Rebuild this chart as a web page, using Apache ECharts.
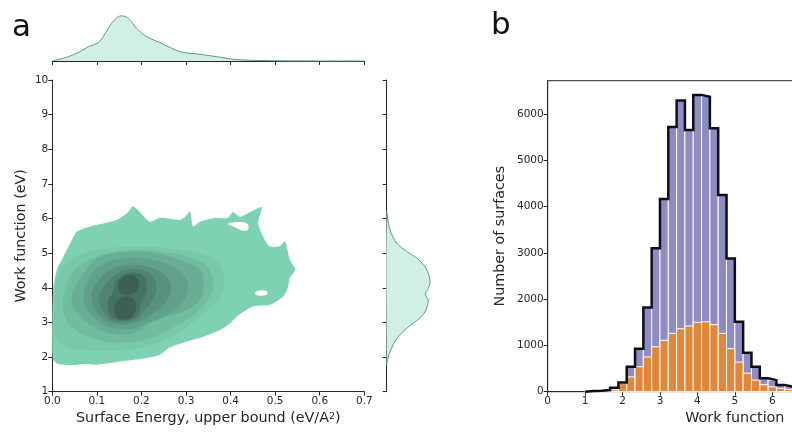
<!DOCTYPE html>
<html>
<head>
<meta charset="utf-8">
<script src="https://cdn.jsdelivr.net/npm/echarts@6/dist/echarts.min.js"></script>
<style>
  html, body { margin: 0; padding: 0; background: #fff; }
  #chart { width: 792px; height: 446px; }
</style>
</head>
<body>
<div id="chart"></div>
<script>
// ---- panel a: marginal densities ----
var topDensX = [0.0, 0.032, 0.062, 0.081, 0.103, 0.114, 0.133, 0.148, 0.159, 0.171, 0.189, 0.212, 0.242, 0.287, 0.331, 0.369, 0.406, 0.451, 0.496, 0.55, 0.7];
var topDensY = [0, 0.48, 1.21, 1.86, 2.38, 3.16, 4.90, 5.76, 5.85, 5.55, 4.25, 3.16, 2.38, 1.21, 0.87, 0.56, 0.22, 0.09, 0.04, 0.01, 0];

var rightDensY = [6.2, 5.67, 5.29, 5.05, 4.86, 4.61, 4.32, 4.13, 3.95, 3.82, 3.65, 3.45, 3.25, 3.05, 2.83, 2.54, 2.2, 1.92, 1.75];
var rightDensX = [0, 0.041, 0.125, 0.25, 0.375, 0.479, 0.534, 0.541, 0.513, 0.481, 0.519, 0.506, 0.463, 0.375, 0.25, 0.125, 0.05, 0.008, 0];

// ---- panel a: filled KDE contour levels, [surface energy, work function] ----
var level1 = [[0.002,1.92],[0.013,1.80],[0.047,1.77],[0.07,1.80],[0.1,1.78],[0.145,1.86],[0.2,1.95],[0.24,2.06],[0.264,2.28],[0.302,2.45],[0.339,2.59],[0.376,2.78],[0.399,2.98],[0.414,3.17],[0.450,3.46],[0.488,3.51],[0.518,3.75],[0.529,4.03],[0.533,4.29],[0.545,4.52],[0.533,4.81],[0.522,5.34],[0.511,5.21],[0.488,5.19],[0.473,5.48],[0.462,5.88],[0.470,6.33],[0.444,6.19],[0.421,6.05],[0.405,6.19],[0.394,6.02],[0.361,6.01],[0.331,5.91],[0.316,5.77],[0.312,6.0],[0.309,6.2],[0.300,6.08],[0.287,5.96],[0.242,6.02],[0.219,5.91],[0.192,6.25],[0.181,6.35],[0.168,6.16],[0.144,5.96],[0.085,5.77],[0.055,5.62],[0.044,5.38],[0.025,4.90],[0.010,4.52],[0.002,3.94],[0.0,3.07],[0.0,2.21]];
var hole1 = [[0.455,3.85],[0.465,3.92],[0.48,3.9],[0.483,3.82],[0.47,3.77],[0.458,3.79]];
var hole2 = [[0.394,5.85],[0.41,5.75],[0.43,5.64],[0.44,5.7],[0.437,5.85],[0.42,5.9]];
var level2 = [[0.008,2.6],[0.03,2.3],[0.09,2.2],[0.16,2.2],[0.22,2.35],[0.27,2.6],[0.31,2.95],[0.35,3.35],[0.38,3.8],[0.385,4.3],[0.37,4.75],[0.33,5.0],[0.27,5.12],[0.2,5.2],[0.13,5.15],[0.07,5.0],[0.03,4.7],[0.01,4.2],[0.005,3.4]];
var level3 = [[0.025,3.3],[0.05,2.8],[0.1,2.5],[0.16,2.42],[0.22,2.55],[0.27,2.85],[0.32,3.25],[0.355,3.8],[0.36,4.3],[0.34,4.7],[0.29,4.95],[0.22,5.08],[0.15,5.05],[0.09,4.85],[0.05,4.5],[0.03,4.0]];
var level4 = [[0.043,3.65],[0.062,3.17],[0.092,2.88],[0.129,2.69],[0.182,2.69],[0.212,2.93],[0.257,3.17],[0.301,3.36],[0.331,3.65],[0.339,4.13],[0.331,4.52],[0.286,4.81],[0.234,5.0],[0.182,5.05],[0.107,4.9],[0.07,4.42]];
var level5 = [[0.07,3.65],[0.09,3.2],[0.125,2.88],[0.18,2.82],[0.22,3.02],[0.27,3.32],[0.3,3.75],[0.302,4.2],[0.275,4.58],[0.22,4.82],[0.16,4.85],[0.105,4.62],[0.08,4.2]];
var level6 = [[0.088,3.7],[0.108,3.18],[0.14,2.96],[0.185,3.0],[0.228,3.28],[0.26,3.7],[0.265,4.12],[0.24,4.48],[0.19,4.66],[0.14,4.58],[0.108,4.28]];
var level7 = [[0.105,3.7],[0.122,3.18],[0.152,3.02],[0.188,3.1],[0.212,3.42],[0.232,3.85],[0.228,4.28],[0.198,4.52],[0.155,4.48],[0.122,4.12]];
var level8 = [[0.125,3.6],[0.132,3.18],[0.158,3.06],[0.19,3.2],[0.2,3.58],[0.212,3.95],[0.205,4.33],[0.174,4.43],[0.144,4.2],[0.136,3.88]];
var level9a = [[0.14,3.3],[0.152,3.1],[0.176,3.14],[0.188,3.42],[0.182,3.68],[0.16,3.74],[0.143,3.55]];
var level9b = [[0.148,3.95],[0.162,3.8],[0.185,3.86],[0.195,4.1],[0.188,4.32],[0.164,4.36],[0.15,4.18]];

var contourShapes = [level1, hole1, hole2, level2, level3, level4, level5, level6, level7, level8, level9a, level9b];
var contourColors = ['#7ed2b2', '#ffffff', '#ffffff', '#78c8a9', '#71bc9f', '#69ae94', '#61a089', '#58917d', '#4f8270', '#467264', '#3c6053', '#3c6053'];

// ---- panel b: work function histogram ----
var binStart = 1.0;
var binWidth = 0.2222;
var totalCounts = [15, 20, 35, 85, 200, 540, 930, 1820, 3100, 4165, 5720, 6290, 5655, 6410, 6375, 5690, 4250, 2880, 1510, 840, 540, 290, 250, 145, 110, 85, 65, 50, 38, 28, 20, 14, 10, 7, 5];
var subsetCounts = [2, 4, 8, 40, 180, 320, 540, 750, 970, 1110, 1260, 1360, 1420, 1500, 1510, 1450, 1260, 930, 640, 400, 250, 150, 105, 72, 50, 35, 25, 18, 12, 8, 5, 4, 3, 2, 1];

var binEdges = totalCounts.map(function (c, i) { return binStart + i * binWidth; });

var FONT = 'DejaVu Sans';
var INK = '#262626';

function polygonRender(params, api) {
    var pts = contourShapes[params.dataIndex].map(function (p) { return api.coord(p); });
    return {
        type: 'polygon',
        shape: { points: pts, smooth: params.dataIndex === 0 ? 0.25 : 0.4 },
        style: { fill: contourColors[params.dataIndex], stroke: null }
    };
}

function topDensRender(params, api) {
    var pts = topDensX.map(function (x, i) { return api.coord([x, topDensY[i]]); });
    var area = pts.concat([api.coord([topDensX[topDensX.length - 1], 0]), api.coord([topDensX[0], 0])]);
    return {
        type: 'group',
        children: [
            { type: 'polygon', shape: { points: area, smooth: 0 }, style: { fill: '#d2efe4', stroke: null } },
            { type: 'polyline', shape: { points: pts, smooth: 0.3 }, style: { fill: null, stroke: '#5e9784', lineWidth: 1 } }
        ]
    };
}

function rightDensRender(params, api) {
    var pts = rightDensY.map(function (y, i) { return api.coord([rightDensX[i], y]); });
    return {
        type: 'group',
        children: [
            { type: 'polygon', shape: { points: pts, smooth: 0.3 }, style: { fill: '#d2efe4', stroke: null } },
            { type: 'polyline', shape: { points: pts, smooth: 0.3 }, style: { fill: null, stroke: '#5e9784', lineWidth: 1 } }
        ]
    };
}

function barsRender(counts, color) {
    return function (params, api) {
        var i = params.dataIndex;
        var p0 = api.coord([binEdges[i], counts[i]]);
        var p1 = api.coord([binEdges[i] + binWidth, 0]);
        return {
            type: 'rect',
            shape: { x: p0[0], y: p0[1], width: p1[0] - p0[0], height: p1[1] - p0[1] },
            style: { fill: color, stroke: '#ffffff', lineWidth: 1 }
        };
    };
}

// step outline of the total histogram
var outline = [[binEdges[0], 0]];
totalCounts.forEach(function (c, i) {
    outline.push([binEdges[i], c]);
    outline.push([binEdges[i] + binWidth, c]);
});
outline.push([binEdges[binEdges.length - 1] + binWidth, 0]);

var tickLabel = { fontSize: 10.5, color: INK, fontFamily: FONT, margin: 4 };
var titleText = { fontSize: 14.3, color: INK, fontFamily: FONT };

var chart = echarts.init(document.getElementById('chart'), null, { renderer: 'canvas', width: 792, height: 446 });

chart.setOption({
    animation: false,
    textStyle: { fontFamily: FONT },
    graphic: [
        { type: 'text', left: 12, top: 12, style: { text: 'a', font: '31px "DejaVu Sans"', fill: '#111' } },
        { type: 'text', left: 491, top: 10, style: { text: 'b', font: '31px "DejaVu Sans"', fill: '#111' } }
    ],
    grid: [
        { left: 52.3, top: 80, width: 312, height: 311.7, outerBoundsMode: 'none' },
        { left: 52.3, top: 10, width: 312, height: 51, outerBoundsMode: 'none' },
        { left: 386.7, top: 80, width: 50, height: 311.7, outerBoundsMode: 'none' },
        { left: 547.7, top: 80.7, width: 374.3, height: 311, outerBoundsMode: 'none', containLabel: false,
          show: true, borderColor: INK, borderWidth: 1, backgroundColor: 'transparent' }
    ],
    xAxis: [
        {
            gridIndex: 0, type: 'value', min: 0, max: 0.7, interval: 0.1,
            axisLine: { show: true, onZero: false, lineStyle: { color: INK, width: 1 } },
            axisTick: { show: true, length: 4, lineStyle: { color: INK } },
            axisLabel: Object.assign({ formatter: function (v) { return v.toFixed(1); } }, tickLabel),
            splitLine: { show: false },
            name: '{n|Surface Energy, upper bound (eV/A}{s|2}{n|)}',
            nameLocation: 'middle', nameGap: 20,
            nameTextStyle: { rich: { n: titleText, s: { fontSize: 9.5, color: INK, fontFamily: FONT, verticalAlign: 'top' } } }
        },
        {
            gridIndex: 1, type: 'value', min: 0, max: 0.7, interval: 0.1,
            axisLine: { show: true, onZero: false, lineStyle: { color: INK, width: 1 } },
            axisTick: { show: true, length: 4, lineStyle: { color: INK } },
            axisLabel: { show: false },
            splitLine: { show: false }
        },
        { gridIndex: 2, type: 'value', min: 0, max: 0.625, show: false },
        {
            gridIndex: 3, type: 'value', min: 0, max: 10, interval: 1,
            axisLine: { show: true, onZero: false, lineStyle: { color: INK, width: 1 } },
            axisTick: { show: true, length: 4, lineStyle: { color: INK } },
            axisLabel: tickLabel,
            splitLine: { show: false },
            name: 'Work function', nameLocation: 'middle', nameGap: 20,
            nameTextStyle: titleText
        }
    ],
    yAxis: [
        {
            gridIndex: 0, type: 'value', min: 1, max: 10, interval: 1,
            axisLine: { show: true, onZero: false, lineStyle: { color: INK, width: 1 } },
            axisTick: { show: true, length: 4, lineStyle: { color: INK } },
            axisLabel: tickLabel,
            splitLine: { show: false },
            name: 'Work function (eV)', nameLocation: 'middle', nameGap: 24,
            nameTextStyle: titleText
        },
        { gridIndex: 1, type: 'value', min: 0, max: 6.63, show: false },
        {
            gridIndex: 2, type: 'value', min: 1, max: 10, interval: 1,
            axisLine: { show: true, onZero: false, lineStyle: { color: INK, width: 1 } },
            axisTick: { show: true, length: 4, lineStyle: { color: INK } },
            axisLabel: { show: false },
            splitLine: { show: false }
        },
        {
            gridIndex: 3, type: 'value', min: 0, max: 6720, interval: 1000,
            axisLine: { show: true, onZero: false, lineStyle: { color: INK, width: 1 } },
            axisTick: { show: true, length: 4, lineStyle: { color: INK } },
            axisLabel: Object.assign({ showMaxLabel: false, formatter: function (v) { return String(v); } }, tickLabel),
            splitLine: { show: false },
            name: 'Number of surfaces', nameLocation: 'middle', nameGap: 40,
            nameTextStyle: titleText
        }
    ],
    series: [
        {
            type: 'custom', xAxisIndex: 0, yAxisIndex: 0,
            data: contourShapes.map(function (s) { return s[0]; }),
            renderItem: polygonRender, clip: true, z: 2
        },
        {
            type: 'custom', xAxisIndex: 1, yAxisIndex: 1,
            data: [[topDensX[0], topDensY[0]]],
            renderItem: topDensRender, z: 2
        },
        {
            type: 'custom', xAxisIndex: 2, yAxisIndex: 2,
            data: [[rightDensX[0], rightDensY[0]]],
            renderItem: rightDensRender, z: 2
        },
        {
            type: 'custom', xAxisIndex: 3, yAxisIndex: 3,
            data: totalCounts.map(function (c, i) { return [binEdges[i], c]; }),
            renderItem: barsRender(totalCounts, '#8e8cc2'), z: 2
        },
        {
            type: 'custom', xAxisIndex: 3, yAxisIndex: 3,
            data: subsetCounts.map(function (c, i) { return [binEdges[i], c]; }),
            renderItem: barsRender(subsetCounts, '#e0873a'), z: 3
        },
        {
            type: 'line', xAxisIndex: 3, yAxisIndex: 3,
            data: outline, showSymbol: false, symbol: 'none',
            lineStyle: { color: '#0d0d17', width: 2.5, join: 'miter' }, z: 4
        }
    ]
});
</script>
</body>
</html>
